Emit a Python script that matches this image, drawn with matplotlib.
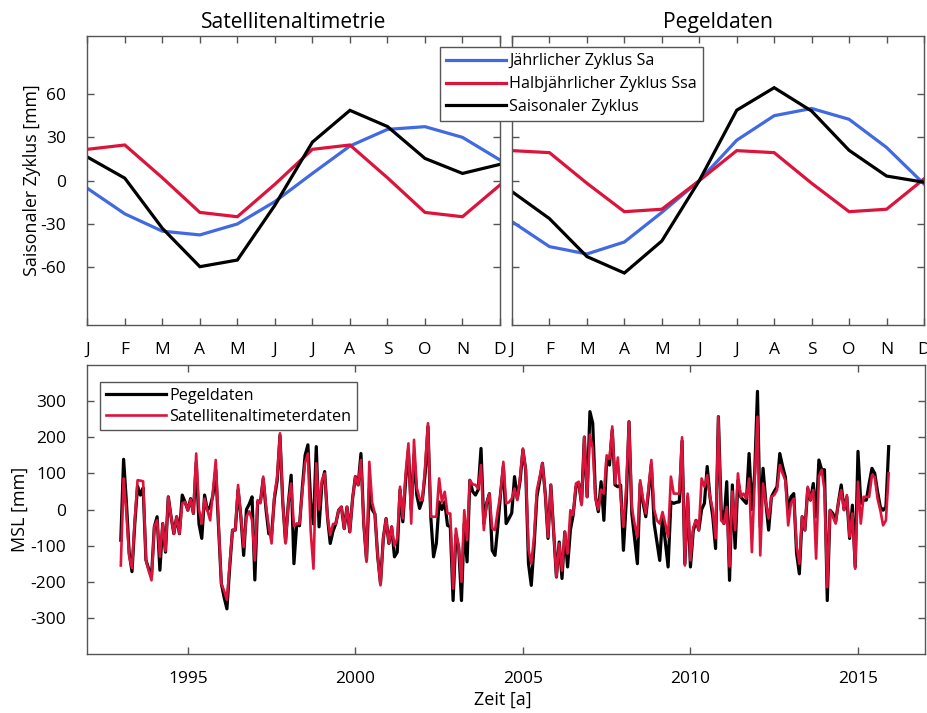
import numpy as np
import matplotlib
matplotlib.use("Agg")
import matplotlib.pyplot as plt
from matplotlib.lines import Line2D

plt.rcParams["font.family"] = ["Open Sans", "DejaVu Sans"]
plt.rcParams["axes.unicode_minus"] = False

# ---- seasonal cycle (monthly, mm) ----
months = ["J", "F", "M", "A", "M", "J", "J", "A", "S", "O", "N", "D"]

sat_sa = [-5.3, -23, -35, -37.6, -30, -14.5, 5, 24, 35.5, 37.4, 30, 14.3]
sat_ssa = [21.7, 24.7, 2, -22, -25, -2.5, 21.7, 24.7, 2, -22, -25, -3]
sat_season = [16.4, 1.7, -33, -59.6, -55, -17, 26.7, 48.7, 37.5, 15.4, 5, 11.3]

gauge_sa = [-28.4, -45.7, -50.8, -42.5, -22, 0, 28, 45, 50, 42.5, 23, -2.3]
gauge_ssa = [20.8, 19.4, -1.8, -21.5, -19.8, 0, 20.8, 19.4, -1.8, -21.5, -19.8, 1.2]
gauge_season = [-7.6, -26.3, -52.6, -64, -41.8, 0, 48.8, 64.4, 48.2, 21, 3.2, -1.1]

# ---- monthly mean sea level anomalies 1993-2015 (mm) ----
msl_start = 1993.0
msl_gauge = [
    -85, 139, 20, -120, -172, -40, 65, 40, 60, -140, -165, -185,
    -48, -20, -168, -39, -118, 35, -20, -67, -20, -67, 40, 21,
    -2, 30, -11, 130, -40, -80, 40, -2, 8, 40, 110, -48,
    -205, -243, -275, -160, -57, -57, 55, -20, -127, 0, 15, 35,
    -195, 21, 21, 85, 0, -67, -70, 30, 80, 205, 20, -90,
    17, 95, -150, -40, -45, 60, 150, 179, 20, -40, 174, -48,
    70, 105, -20, -94, -60, -39, -2, 7, -53, 7, -62, 30,
    91, 68, 155, -39, -140, 58, 0, -12, -130, -205, -80, -25,
    -94, -48, -131, -118, 55, -34, 80, 165, 0, 150, 40, 3,
    26, 100, 230, -20, -131, -94, 21, 0, 21, -44, -48, -252,
    -71, -104, -252, -39, -145, 81, 50, 40, 55, 169, -39, 17,
    44, -113, -127, -48, 44, 120, -39, -25, -10, 91, 30, 80, 165,
    110, -150, -210, -100, 35, 80, 128, 44, -80, 68, -60, -187,
    -90, -191, -62, -159, -57, -15, 63, 72, 17, 200, 35, 271,
    239, 35, -6, 77, -30, 140, 123, 220, 68, 63, 68, -113,
    20, 243, -11, -80, -150, 72, 20, -20, 50, 125, -39, -90,
    -141, -20, -90, -159, 21, 17, 20, 21, 190, -150, 35, -159,
    -60, -30, -57, 0, 17, 119, 35, -20, -108, 257, 0, -39,
    77, -196, 68, -107, 80, 35, 26, 17, 155, 0, 100, 327,
    -48, 114, 20, -57, 35, 50, 63, 155, 120, 90, -10, 35,
    44, -120, -178, -20, -57, 58, 26, 72, -20, 137, 110, 110,
    -252, -2, -11, -34, 20, 68, 0, 35, -80, 12, -159, 161,
    17, 26, 26, 72, 114, 100, 50, 7, -2, 7, 174,
]
msl_sat = [
    -155, 86, -10, -130, -162, -30, 81, 80, 78, -140, -170, -196,
    -48, -30, -131, -39, -115, 35, -20, -67, -20, -67, 17, 21,
    -2, 28, -11, 155, 0, -39, 30, -2, -30, 50, 137, -39,
    -205, -225, -250, -150, -57, -57, 68, -20, -104, -20, -5, -30,
    -141, 26, 17, 91, 10, -48, -94, 40, 90, 211, 20, -94,
    17, 72, -46, -40, -39, 50, 130, 155, -60, -164, 128, 0,
    81, 100, -20, -71, -40, -39, -2, 7, -53, 7, -62, 30,
    91, 68, 137, -39, -145, 132, 20, -12, -130, -210, -80, -25,
    -94, -48, -100, -80, 63, -25, 100, 183, -39, 193, 60, 30,
    26, 120, 239, -20, -20, -20, 86, 21, 49, -11, -11, -219,
    -53, -104, -200, -2, -85, 81, 70, 68, 58, 123, -57, 17,
    44, -52, -57, -2, 44, 132, 17, 20, 30, 58, 26, 90, 169,
    110, -110, -150, -76, 54, 90, 128, 44, -76, 68, -60, -187,
    -94, -169, -62, -122, -2, -15, 72, 77, 12, 202, 35, 207,
    170, 30, 0, 55, 44, 150, 140, 230, 72, 144, 35, -48,
    63, 243, 7, -40, -76, 81, 30, -11, 60, 137, 0, -30,
    -39, -7, -40, -76, 91, 44, 44, 44, 200, -155, 44, -141,
    -50, -30, -57, 86, 63, 95, 35, 0, -80, 257, -30, -39,
    7, -158, 50, -57, 100, 35, 44, 30, 86, -118, 80, 257,
    -127, 72, 20, -25, 35, 40, 54, 123, 100, 80, -44, 17,
    30, -100, -150, -20, -57, 63, 26, 54, -136, 91, 110, 54,
    -215, -2, -20, -39, 20, 54, -2, 40, -76, -11, -164, 77,
    -39, 35, 35, 35, 95, 90, 30, -2, -44, -30, 100,
]

BLUE = "#4169e1"
RED = "#dc143c"
BLACK = "#000000"
SPINE = "#555555"
FS = 12.5        # tick labels / axis labels
FS_TITLE = 15.2
FS_LEG = 11.6

fig = plt.figure(figsize=(9.27, 7.13), dpi=100)
W, H = 927.0, 713.0


def add_ax(x0, y0, x1, y1):
    return fig.add_axes([x0 / W, 1 - y1 / H, (x1 - x0) / W, (y1 - y0) / H])


def style(ax):
    for s in ax.spines.values():
        s.set_color(SPINE)
        s.set_linewidth(1.0)
    ax.tick_params(direction="in", top=True, right=True, length=5,
                   width=1.0, color=SPINE, labelsize=FS)
    ax.tick_params(axis="x", pad=12)
    ax.tick_params(axis="y", pad=15)


ax1 = add_ax(87.3, 36.3, 500, 325)
ax2 = add_ax(512, 36.3, 924, 325)
ax3 = add_ax(87.3, 365, 925, 654)

x_m = np.arange(1, 13)
for ax, sa, ssa, sea, title in [
    (ax1, sat_sa, sat_ssa, sat_season, "Satellitenaltimetrie"),
    (ax2, gauge_sa, gauge_ssa, gauge_season, "Pegeldaten"),
]:
    ax.plot(x_m, sa, color=BLUE, lw=2.3, solid_joinstyle="miter")
    ax.plot(x_m, ssa, color=RED, lw=2.3, solid_joinstyle="miter")
    ax.plot(x_m, sea, color=BLACK, lw=2.3, solid_joinstyle="miter")
    ax.set_xlim(1, 12)
    ax.set_ylim(-100, 100)
    ax.set_xticks(x_m)
    ax.set_xticklabels(months)
    ax.set_yticks([-60, -30, 0, 30, 60])
    ax.set_title(title, fontsize=FS_TITLE, pad=6)
    style(ax)

ax2.tick_params(labelleft=False)
ax1.set_ylabel("Saisonaler Zyklus [mm]", fontsize=FS + 0.3)
ax1.yaxis.set_label_coords(-0.112, 0.5)

handles = [
    Line2D([], [], color=BLUE, lw=2.3),
    Line2D([], [], color=RED, lw=2.3),
    Line2D([], [], color=BLACK, lw=2.3),
]
fig.legend(handles, ["Jährlicher Zyklus Sa", "Halbjährlicher Zyklus Ssa",
                     "Saisonaler Zyklus"],
           loc="upper left", bbox_to_anchor=(440 / W, 1 - 47 / H),
           borderaxespad=0, fontsize=FS_LEG, frameon=True, fancybox=False,
           edgecolor=SPINE, framealpha=1, handlelength=3.7,
           handletextpad=0.2, labelspacing=0.42, borderpad=0.4)

t = msl_start + np.arange(len(msl_gauge)) / 12.0
ax3.plot(t, msl_gauge, color=BLACK, lw=2.3, label="Pegeldaten")
ax3.plot(t, msl_sat, color=RED, lw=1.9, label="Satellitenaltimeterdaten")
ax3.set_xlim(1992, 2017)
ax3.set_ylim(-400, 400)
ax3.set_xticks([1995, 2000, 2005, 2010, 2015])
ax3.set_yticks([-300, -200, -100, 0, 100, 200, 300])
style(ax3)
ax3.set_ylabel("MSL [mm]", fontsize=FS + 0.5)
ax3.yaxis.set_label_coords(-0.070, 0.5)
ax3.set_xlabel("Zeit [a]", fontsize=FS + 0.5)
ax3.xaxis.set_label_coords(0.496, -0.128)
ax3.legend(loc="upper left", bbox_to_anchor=(13 / 837.7, 1 - 17 / 289),
           borderaxespad=0, fontsize=FS_LEG, frameon=True, fancybox=False,
           edgecolor=SPINE, framealpha=1, handlelength=3.7,
           handletextpad=0.25, labelspacing=0.32, borderpad=0.35)

fig.savefig("out.png", dpi=100)
